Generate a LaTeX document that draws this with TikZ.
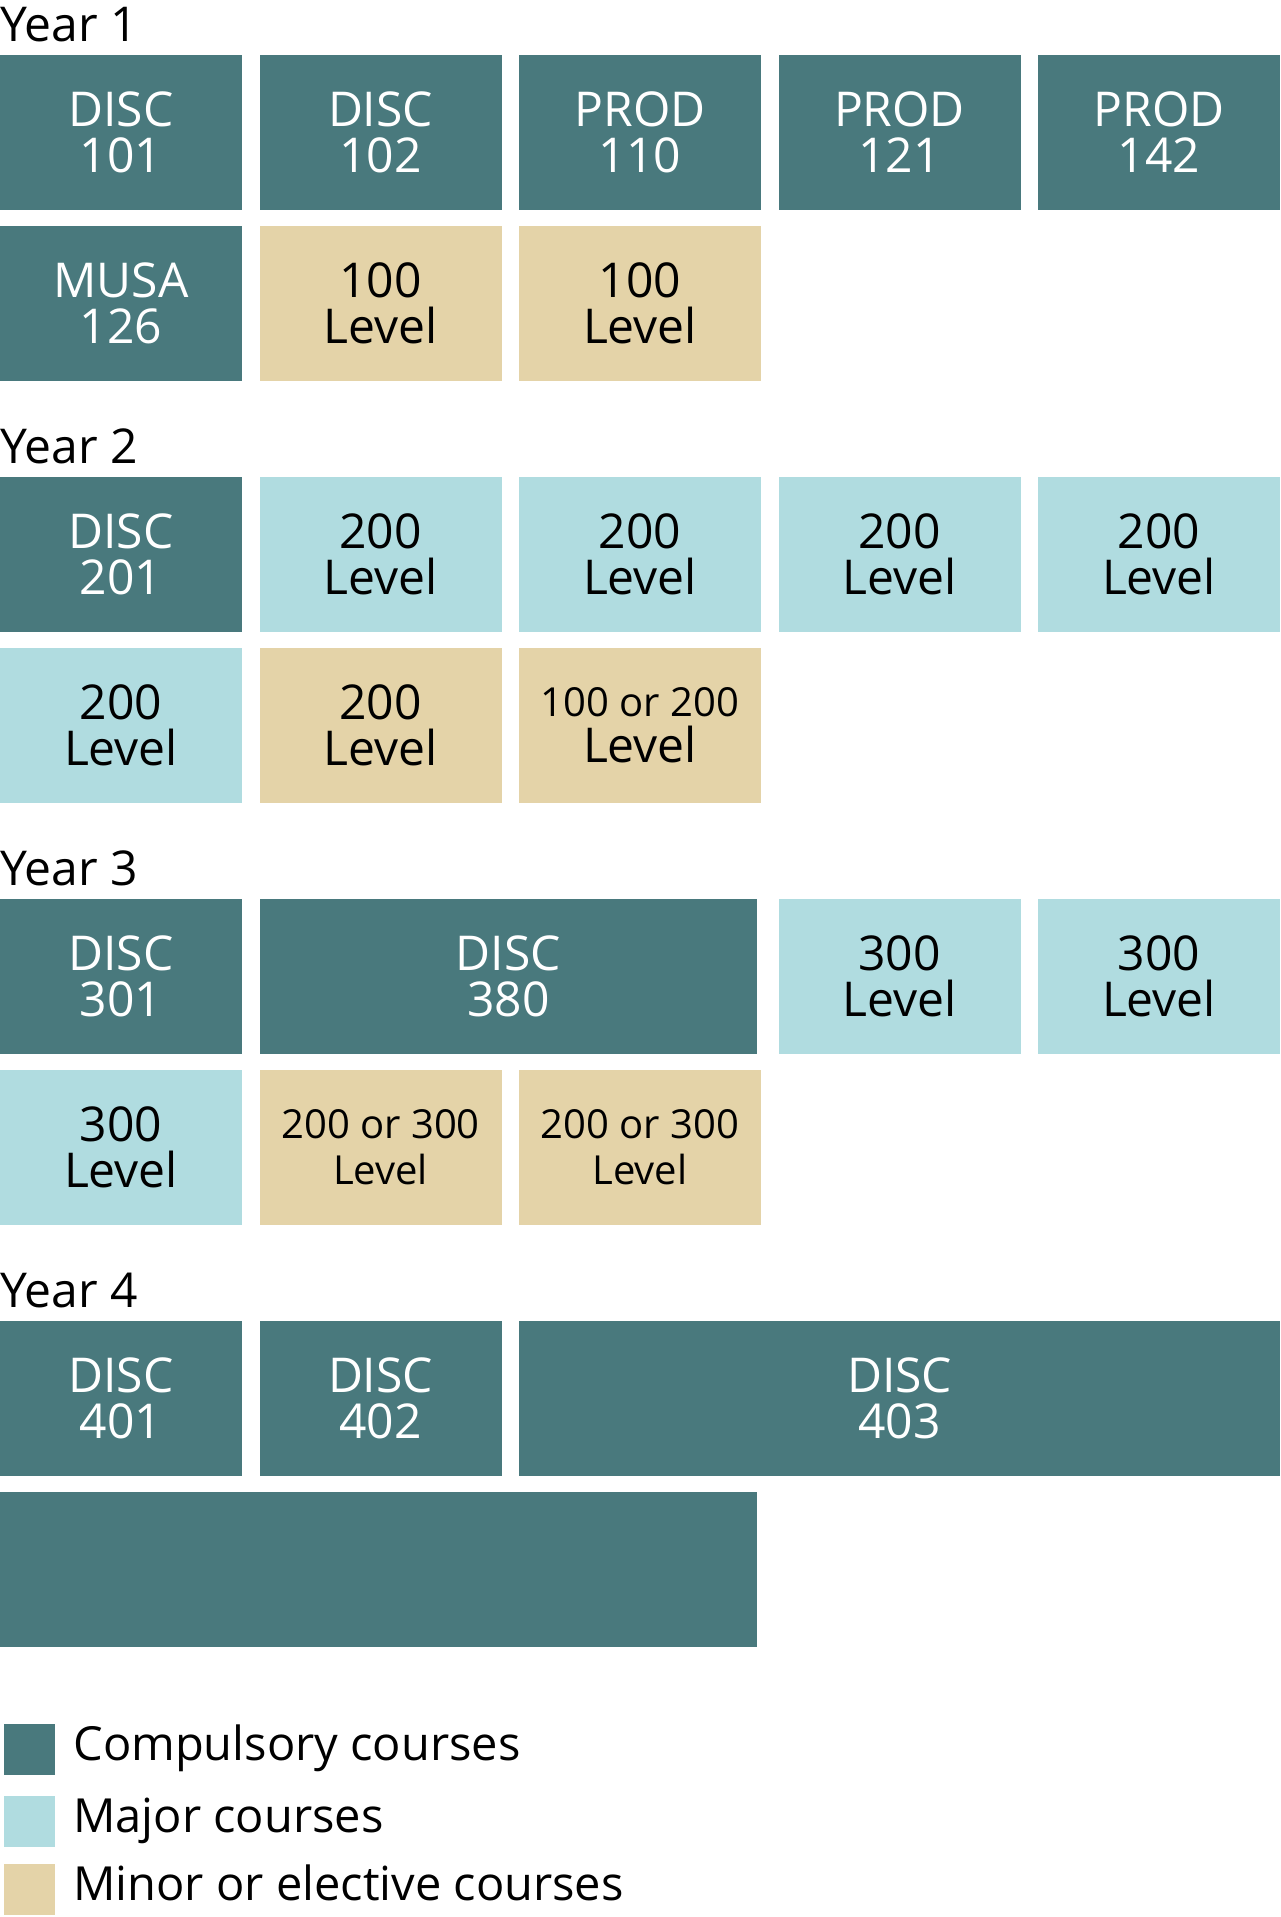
\documentclass[tikz,border=0pt]{standalone}
\usepackage{fontspec}
\setmainfont{Open Sans}
\usetikzlibrary{positioning}
\definecolor{core}{HTML}{49797D}
\definecolor{major}{HTML}{B0DCE0}
\definecolor{minor}{HTML}{E4D3A8}
\tikzset{
  course/.style={minimum width=121pt,minimum height=77.5pt,inner sep=0pt,outer sep=0pt,align=center,font=\fontsize{24}{23}\selectfont},
  comp/.style={course,fill=core,text=white},
  maj/.style={course,fill=major},
  mnr/.style={course,fill=minor},
  yr/.style={anchor=base west,inner sep=0pt,font=\fontsize{24}{24}\selectfont},
  swatch/.style={anchor=north west,minimum width=25.5pt,minimum height=25.5pt,inner sep=0pt,outer sep=0pt},
  lgd/.style={anchor=base west,inner sep=0pt,font=\fontsize{23.5}{24}\selectfont}}
\newcommand{\smalltxt}{\fontsize{20}{23}\selectfont}

\begin{document}
\begin{tikzpicture}[node distance=8pt and 8.75pt]
\useasboundingbox (0,0) rectangle (640pt,-958.5pt);
% year 1
\node[comp,anchor=north west] (d101) at (0,-27.5pt) {DISC\\101};
\node[yr] (y1) at ([yshift=7pt]d101.north west) {Year 1};
\node[comp,right=of d101] (d102) {DISC\\102};
\node[comp,right=of d102] (p110) {PROD\\110};
\node[comp,right=of p110] (p121) {PROD\\121};
\node[comp,right=of p121] (p142) {PROD\\142};
\node[comp,below=of d101] (m126) {MUSA\\126};
\node[mnr,right=of m126] (e1a) {100\\Level};
\node[mnr,right=of e1a] (e1b) {100\\Level};
% year 2
\node[comp,below=48pt of m126] (d201) {DISC\\201};
\node[yr] (y2) at ([yshift=7pt]d201.north west) {Year 2};
\node[maj,right=of d201] (j2a) {200\\Level};
\node[maj,right=of j2a] (j2b) {200\\Level};
\node[maj,right=of j2b] (j2c) {200\\Level};
\node[maj,right=of j2c] (j2d) {200\\Level};
\node[maj,below=of d201] (j2e) {200\\Level};
\node[mnr,right=of j2e] (e2a) {200\\Level};
\node[mnr,right=of e2a] (e2b) {{\smalltxt 100 or 200}\\Level};
% year 3
\node[comp,below=48pt of j2e] (d301) {DISC\\301};
\node[yr] (y3) at ([yshift=7pt]d301.north west) {Year 3};
\node[comp,right=of d301,minimum width=248.75pt] (d380) {DISC\\380};
\node[maj,right=10.75pt of d380] (j3a) {300\\Level};
\node[maj,right=of j3a] (j3b) {300\\Level};
\node[maj,below=of d301] (j3c) {300\\Level};
\node[mnr,right=of j3c,font=\smalltxt] (e3a) {200 or 300\\Level};
\node[mnr,right=of e3a,font=\smalltxt] (e3b) {200 or 300\\Level};
% year 4
\node[comp,below=48pt of j3c] (d401) {DISC\\401};
\node[yr] (y4) at ([yshift=7pt]d401.north west) {Year 4};
\node[comp,right=of d401] (d402) {DISC\\402};
\node[comp,right=of d402,minimum width=380.5pt] (d403) {DISC\\403};
\node[comp,below=of d401.south west,anchor=north west,minimum width=378.5pt] (blank) {};
% legend
\node[swatch,fill=core] (sq1) at (2pt,-862pt) {};
\node[swatch,fill=major] (sq2) at (2pt,-898pt) {};
\node[swatch,fill=minor] (sq3) at (2pt,-932pt) {};
\node[lgd] (l1) at ([xshift=9pt,yshift=7.5pt]sq1.south east) {Compulsory courses};
\node[lgd] (l2) at ([xshift=9pt,yshift=7.5pt]sq2.south east) {Major courses};
\node[lgd] (l3) at ([xshift=9pt,yshift=7.5pt]sq3.south east) {Minor or elective courses};
\end{tikzpicture}
\end{document}
